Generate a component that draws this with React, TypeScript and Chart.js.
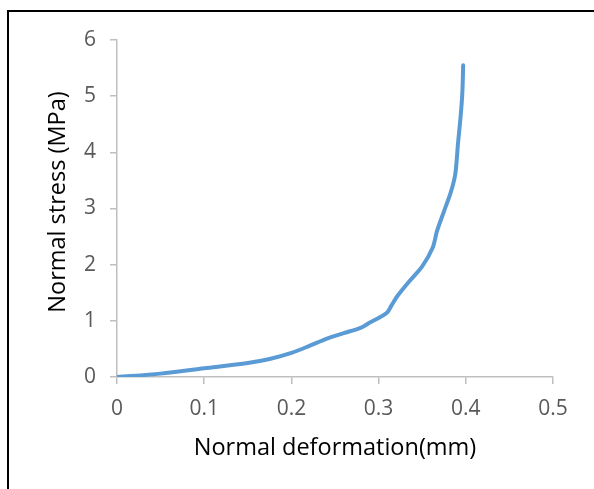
import React, { useEffect, useRef } from "react";
import { Chart, registerables } from "chart.js";

Chart.register(...registerables);

const deformation = [0, 0.05, 0.1, 0.15, 0.175, 0.2, 0.22, 0.24, 0.26, 0.28, 0.29, 0.3, 0.31, 0.315, 0.322, 0.335, 0.35, 0.362, 0.367, 0.375, 0.383, 0.388, 0.391, 0.394, 0.396, 0.397];
const stress = [0, 0.06, 0.155, 0.25, 0.32, 0.43, 0.55, 0.68, 0.78, 0.88, 0.97, 1.05, 1.15, 1.28, 1.45, 1.7, 1.97, 2.3, 2.6, 2.95, 3.3, 3.62, 4.15, 4.63, 5.05, 5.55];

const xTitle = "Normal deformation(mm)";
const yTitle = "Normal stress (MPa)";

const FONT = "'Open Sans', sans-serif";

const yTitlePlugin = {
  id: "yTitlePlugin",
  afterDraw(chart: any) {
    const ctx = chart.ctx;
    ctx.save();
    ctx.translate(58, 202);
    ctx.rotate(-Math.PI / 2);
    ctx.font = `23.5px ${FONT}`;
    ctx.fillStyle = "#000000";
    ctx.textAlign = "center";
    ctx.textBaseline = "middle";
    ctx.fillText(yTitle, 0, 0);
    ctx.restore();
  },
};

export default function App() {
  const ref = useRef<HTMLCanvasElement | null>(null);

  useEffect(() => {
    if (!ref.current) return;
    const chart = new Chart(ref.current, {
      type: "scatter",
      data: {
        datasets: [
          {
            data: deformation.map((d, i) => ({ x: d, y: stress[i] })),
            showLine: true,
            borderColor: "#5B9BD5",
            backgroundColor: "#5B9BD5",
            borderWidth: 4,
            pointRadius: 0,
            tension: 0.3,
            borderCapStyle: "round",
          },
        ],
      },
      options: {
        animation: false,
        responsive: false,
        layout: { padding: { left: 0, top: 40, right: 41, bottom: 0 } },
        plugins: { legend: { display: false }, tooltip: { enabled: false } },
        scales: {
          x: {
            type: "linear",
            min: 0,
            max: 0.5,
            afterFit: (s: any) => {
              s.height = 112;
            },
            ticks: {
              stepSize: 0.1,
              color: "#595959",
              font: { family: FONT, size: 21 },
              padding: 12,
              maxRotation: 0,
            },
            grid: {
              drawOnChartArea: false,
              color: "#BFBFBF",
              tickLength: 7,
              lineWidth: 1.5,
            },
            border: { color: "#BFBFBF", width: 1.5 },
            title: {
              display: true,
              text: xTitle,
              color: "#000000",
              font: { family: FONT, size: 23.5 },
              padding: { top: 0, bottom: 27 },
            },
          },
          y: {
            type: "linear",
            min: 0,
            max: 6,
            afterFit: (s: any) => {
              s.width = 117;
            },
            ticks: {
              stepSize: 1,
              color: "#595959",
              font: { family: FONT, size: 21 },
              padding: 14,
            },
            grid: {
              drawOnChartArea: false,
              color: "#BFBFBF",
              tickLength: 7,
              lineWidth: 1.5,
            },
            border: { color: "#BFBFBF", width: 1.5 },
          },
        },
      },
      plugins: [yTitlePlugin],
    });
    return () => chart.destroy();
  }, []);

  return (
    <div style={{ position: "fixed", left: 0, top: 0, width: 594, height: 489, overflow: "hidden", background: "#fff" }}>
      <div
        style={{
          position: "absolute",
          left: 7,
          top: 10,
          width: 700,
          height: 600,
          borderLeft: "2px solid #000",
          borderTop: "2px solid #000",
        }}
      />
      <canvas ref={ref} width={594} height={489} style={{ position: "absolute", left: 0, top: 0 }} />
    </div>
  );
}
